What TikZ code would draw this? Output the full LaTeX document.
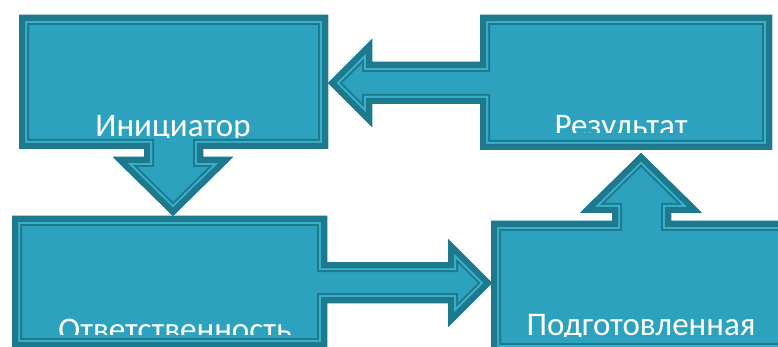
\documentclass[tikz,border=0pt]{standalone}
\usepackage{fontspec}
\setmainfont{Carlito}
\definecolor{boxfill}{RGB}{44,162,190}
\definecolor{boxdark}{RGB}{31,121,141}
\definecolor{boxlight}{RGB}{54,176,203}
\tikzset{
  lbl/.style={text=white, font=\fontsize{33}{36}\selectfont, anchor=base, inner sep=0pt},
  rim/.style={line join=miter, miter limit=20},
}
\newcommand\blockshape[1]{%
  \begin{scope}
    \clip #1;
    \fill[boxfill] #1;
    \draw[rim, boxdark, line width=20pt] #1;
    \draw[rim, boxlight, line width=16pt] #1;
    \draw[rim, boxdark, line width=12pt] #1;
  \end{scope}}
\begin{document}
\begin{tikzpicture}[x=1pt, y=-1pt]
\useasboundingbox (0,0) rectangle (778,347);
\clip (0,0) rectangle (778,347);
% Initiator + down arrow
\blockshape{(19,15) -- (328,15) -- (328,149) -- (203,149) -- (203,157) -- (233,157) -- (173,216) -- (113,157) -- (144,157) -- (144,149) -- (19,149) -- cycle}
% Result + left arrow
\blockshape{(480,15) -- (772,15) -- (772,150) -- (480,150) -- (480,104) -- (372,104) -- (372,127) -- (328,83) -- (372,39) -- (372,62) -- (480,62) -- cycle}
% Responsibility + right arrow
\blockshape{(12,216) -- (327,216) -- (327,262) -- (448,262) -- (448,239) -- (492,283) -- (448,327) -- (448,303) -- (327,303) -- (327,348) -- (12,348) -- cycle}
% Prepared + up arrow
\blockshape{(491,221) -- (612,221) -- (612,213) -- (580,213) -- (641,153) -- (702,213) -- (671,213) -- (671,221) -- (790,221) -- (790,353) -- (491,353) -- cycle}
% labels
\begin{scope}
  \clip (19,15) rectangle (328,138);
  \node[lbl] (t1) at (173,137) {Инициатор};
\end{scope}
\begin{scope}
  \clip (480,15) rectangle (772,133);
  \node[lbl] (t3) at (621,137) {Результат};
\end{scope}
\begin{scope}
  \clip (12,216) rectangle (327,334);
  \node[lbl] (t2) at (175,340) {Ответственность};
\end{scope}
\begin{scope}
  \clip (491,221) rectangle (790,336);
  \node[lbl] (t4) at (641,335) {Подготовленная};
\end{scope}
\end{tikzpicture}
\end{document}
